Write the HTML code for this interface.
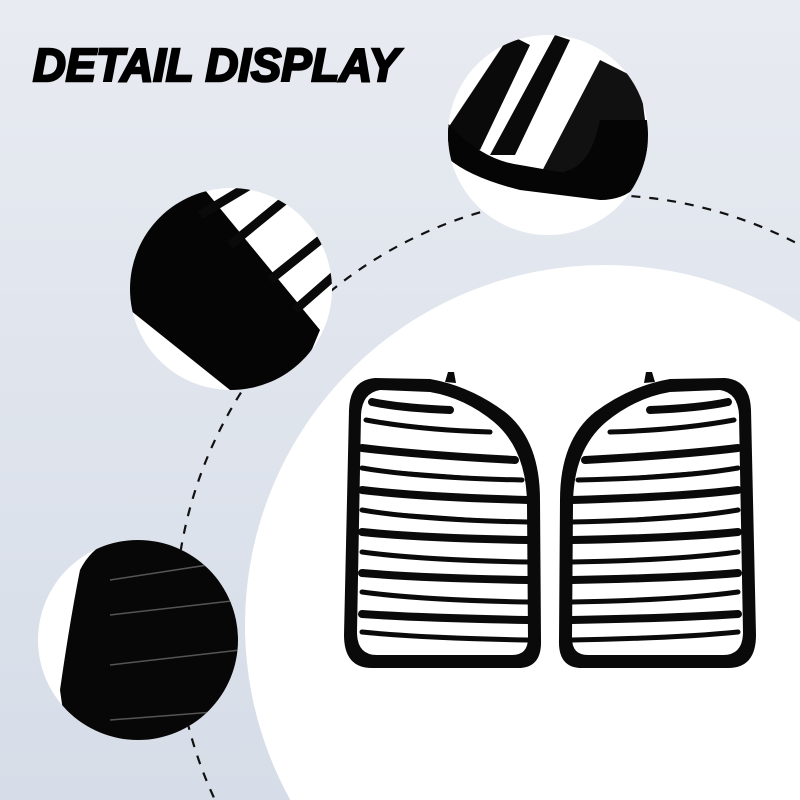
<!DOCTYPE html>
<html><head><meta charset="utf-8"><style>
html,body{margin:0;padding:0;width:800px;height:800px;overflow:hidden}
svg{display:block}
</style></head><body>
<svg width="800" height="800" viewBox="0 0 800 800" xmlns="http://www.w3.org/2000/svg">
<defs>
<linearGradient id="bg" x1="0" y1="0" x2="0" y2="1">
<stop offset="0" stop-color="#e8ebf1"/><stop offset="1" stop-color="#d6dde8"/>
</linearGradient>
<clipPath id="c1"><circle cx="548" cy="135" r="100"/></clipPath>
<clipPath id="c2"><circle cx="231" cy="289" r="101"/></clipPath>
<clipPath id="c3"><circle cx="138" cy="640" r="100"/></clipPath>
<g id="grille">
<path d="M375,378 Q350,380 349,410 L344,635 Q344,668 372,668 L518,668 Q542,668 541,640 L540,500 Q540,440 505,412 Q470,386 430,379 Z" fill="#0a0a0a"/>
<path d="M380,390 Q362,393 361,415 L357,632 Q357,655 377,655 L512,655 Q528,655 528,638 L527,505 Q527,450 494,422 Q465,398 430,392 Z" fill="#fff"/>
<g stroke="#0a0a0a" stroke-linecap="round">
<path d="M372,402 Q400,408 450,410" stroke-width="8"/>
<path d="M366,420 Q420,430 490,432" stroke-width="5"/>
<path d="M362,448 Q420,455 515,460" stroke-width="8"/>
<path d="M362,468 Q420,478 522,480" stroke-width="5"/>
<path d="M362,490 Q420,497 528,500" stroke-width="8"/>
<path d="M362,510 Q420,520 528,522" stroke-width="5"/>
<path d="M362,532 Q420,538 528,540" stroke-width="8"/>
<path d="M362,552 Q420,560 528,562" stroke-width="5"/>
<path d="M362,573 Q420,578 528,580" stroke-width="8"/>
<path d="M362,592 Q420,600 528,602" stroke-width="5"/>
<path d="M362,614 Q420,618 528,620" stroke-width="8"/>
<path d="M362,632 Q420,638 528,640" stroke-width="5"/>
</g>
<path d="M445,382 L448,372 L454,372 L456,383 Z" fill="#0a0a0a"/>
</g>
</defs>
<rect width="800" height="800" fill="url(#bg)"/>
<circle cx="605" cy="625" r="360" fill="#fff"/>
<circle cx="600" cy="620" r="425" fill="none" stroke="#111" stroke-width="2.2" stroke-dasharray="9 9"/>
<text x="33" y="81" font-family="Liberation Sans, sans-serif" font-weight="bold" font-style="italic" font-size="46" textLength="366" lengthAdjust="spacingAndGlyphs" fill="#000" stroke="#000" stroke-width="2.5">DETAIL DISPLAY</text>
<circle cx="548" cy="135" r="100" fill="#fff"/>
<g clip-path="url(#c1)">
<path d="M440,140 L480,150 L530,45 L510,35 Z" fill="#0a0a0a"/>
<path d="M490,155 L515,155 L570,40 L555,35 Z" fill="#0a0a0a"/>
<path d="M540,175 L600,60 L640,80 L650,160 Z" fill="#111"/>
<path d="M440,150 Q460,175 520,190 L600,200 Q640,200 650,160 L650,120 L600,120 Q590,170 560,172 L520,165 Q480,160 445,120 Z" fill="#050505"/>
</g>
<circle cx="231" cy="289" r="101" fill="#fff"/>
<g clip-path="url(#c2)">
<path d="M130,230 L170,195 L205,190 L320,330 L295,390 L230,390 L130,310 Z" fill="#050505"/>
<path d="M120,320 L120,400 L220,400 Z" fill="#fff"/>
<g stroke="#0a0a0a" stroke-width="9">
<line x1="200" y1="215" x2="250" y2="185"/>
<line x1="230" y1="245" x2="285" y2="200"/>
<line x1="270" y1="280" x2="320" y2="240"/>
<line x1="295" y1="310" x2="335" y2="275"/>
</g>
</g>
<circle cx="138" cy="640" r="100" fill="#fff"/>
<g clip-path="url(#c3)">
<path d="M80,570 Q95,540 130,535 L260,535 L260,760 L70,760 L60,690 Q70,620 80,570 Z" fill="#070707"/>
<g stroke="#555" stroke-width="1.5">
<line x1="110" y1="580" x2="240" y2="560"/>
<line x1="110" y1="615" x2="240" y2="600"/>
<line x1="110" y1="665" x2="240" y2="650"/>
<line x1="110" y1="720" x2="240" y2="710"/>
</g>
</g>
<use href="#grille"/>
<use href="#grille" transform="translate(1100,0) scale(-1,1)"/>
</svg>
</body></html>
